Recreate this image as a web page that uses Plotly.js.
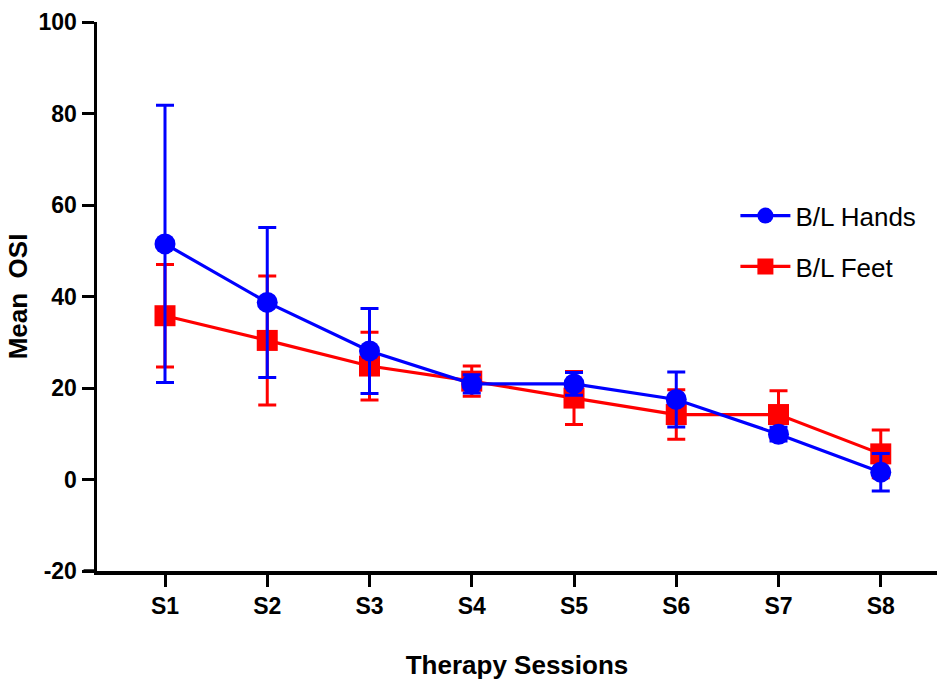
<!DOCTYPE html>
<html>
<head>
<meta charset="utf-8">
<script src="https://cdn.plot.ly/plotly-3.0.1.min.js"></script>
<style>html,body{margin:0;padding:0;background:#fff;}#chart{width:937px;height:682px;}</style>
</head>
<body>
<div id="chart"></div>
<script>
const sessions = ["S1","S2","S3","S4","S5","S6","S7","S8"];
const handsMean = [51.5, 38.7, 28.1, 20.9, 20.9, 17.5, 9.9, 1.6];
const handsErr  = [30.3, 16.4, 9.3, 2.0, 2.5, 6.0, 1.5, 4.1];
const feetMean  = [35.8, 30.4, 24.8, 21.5, 17.8, 14.2, 14.2, 5.6];
const feetErr   = [11.2, 14.1, 7.4, 3.3, 5.8, 5.4, 5.2, 5.2];
const yTickVals = [-20, 0, 20, 40, 60, 80, 100];
const yTickText = ["-20", "0", "20", "40", "60", "80", "100"];

const labelFont = "Liberation Sans, Arial, sans-serif";

const feet = {
  x: sessions, y: feetMean, name: "B/L Feet", legendgroup: "feet", legendrank: 2,
  type: "scatter", mode: "lines+markers",
  line: {color: "#ff0000", width: 3.2},
  marker: {symbol: "square", size: 21, color: "#ff0000"},
  error_y: {type: "data", array: feetErr, visible: true, color: "#ff0000", thickness: 3, width: 9}
};
const hands = {
  x: sessions, y: handsMean, name: "B/L Hands", legendgroup: "hands", legendrank: 1,
  type: "scatter", mode: "lines+markers",
  line: {color: "#0000ff", width: 3.2},
  marker: {symbol: "circle", size: 21, color: "#0000ff"},
  error_y: {type: "data", array: handsErr, visible: true, color: "#0000ff", thickness: 3, width: 9}
};

const layout = {
  width: 937, height: 682,
  margin: {l: 97, r: 0, t: 22, b: 111},
  paper_bgcolor: "#fff", plot_bgcolor: "#fff",
  showlegend: true,
  legend: {x: 0.76, y: 0.69, xanchor: "left", yanchor: "top", traceorder: "grouped",
           font: {family: "Liberation Sans, Arial, sans-serif", size: 26, color: "#000"},
           bgcolor: "rgba(0,0,0,0)", tracegroupgap: 14, itemwidth: 50},
  xaxis: {
    type: "category", range: [-0.665, 7.55],
    showline: true, linecolor: "#000", linewidth: 3.5,
    ticks: "outside", ticklen: 12, tickwidth: 3, tickcolor: "#000",
    showgrid: false, zeroline: false,
    tickfont: {family: labelFont, size: 23, color: "#000", weight: "bold"},
    title: {text: "Therapy Sessions", standoff: 38,
            font: {family: labelFont, size: 26, color: "#000", weight: "bold"}}
  },
  yaxis: {
    range: [-20, 100], tickvals: yTickVals, ticktext: yTickText,
    showline: true, linecolor: "#000", linewidth: 3.5,
    ticks: "outside", ticklen: 12, tickwidth: 3, tickcolor: "#000",
    showgrid: false, zeroline: false,
    tickfont: {family: labelFont, size: 23, color: "#000", weight: "bold"},
    title: {text: "Mean  OSI", standoff: 4,
            font: {family: labelFont, size: 26, color: "#000", weight: "bold"}}
  },
  shapes: [{type: "line", xref: "paper", yref: "paper", x0: -0.016, x1: 0, y0: 0, y1: 0,
            line: {color: "#000", width: 3.5}}]
};

Plotly.newPlot("chart", [feet, hands], layout, {displayModeBar: false, staticPlot: true});
</script>
</body>
</html>
